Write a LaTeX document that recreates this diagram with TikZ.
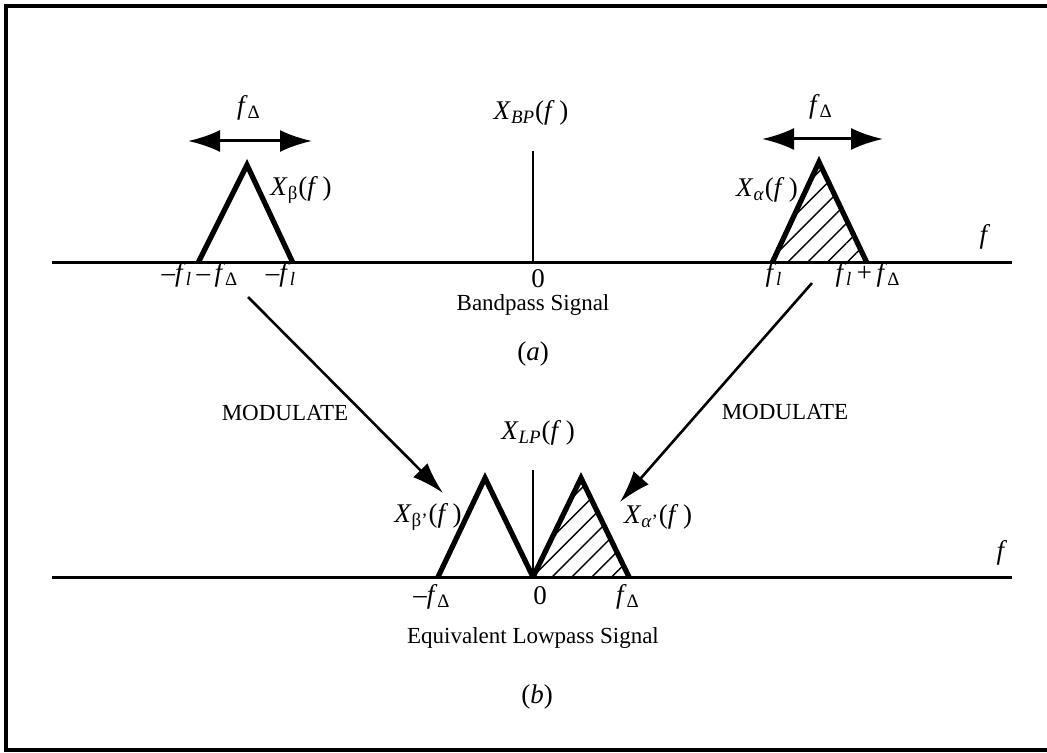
\documentclass[tikz,border=0pt]{standalone}
\usepackage{fontspec}
\setmainfont{Liberation Serif}
\usetikzlibrary{arrows.meta,patterns.meta}

\newcommand{\fv}{\textit{f}\,}
\newcommand{\fd}{\textit{f}\textsubscript{Δ}}
\newcommand{\fl}{\textit{f}\textsubscript{\textit{l}}}

\begin{document}
\begin{tikzpicture}[
    x=0.5pt, y=-0.5pt,
    lbl/.style={inner sep=0pt, font=\fontsize{13.5}{15}\selectfont},
    caption/.style={inner sep=0pt, font=\fontsize{11.5}{13}\selectfont},
    axis/.style={line width=1.5pt},
    tri/.style={line width=2.6pt},
    hatch/.style={pattern={Lines[angle=45,distance=7pt,line width=0.7pt]}},
    wide/.style={{Latex[length=16pt,width=11pt]}-{Latex[length=16pt,width=11pt]}, line width=1.5pt},
    arrow/.style={-{Latex[length=16pt,width=10pt]}, line width=1.3pt}
]
    \useasboundingbox (0,0) rectangle (1047,753);
    % frame
    \draw[line width=2.2pt] (1047,6) -- (6,6) -- (6,750) -- (1047,750);

    % (a) bandpass signal
    \draw[axis] (52,263) -- (1012,263);
    \draw[tri] (198,263) -- (247,165) -- (293,263);
    \draw[tri, hatch] (772,263) -- (819,162) -- (867,263);
    \draw[line width=1.4pt] (533,151) -- (533,263);
    \draw[wide] (188,141) -- (312,141);
    \draw[wide] (762,139) -- (883,139);

    \node[lbl] (fdl) at (249,108) {\fd};
    \node[lbl] (fdr) at (821,107) {\fd};
    \node[lbl] (xb) at (301,190) {\textit{X}\textsubscript{β}(\fv)};
    \node[lbl] (xa) at (767,190) {\textit{X}\textsubscript{\textit{α}}(\fv)};
    \node[lbl] (xbp) at (531,113) {\textit{X}\textsubscript{\textit{BP}}(\fv)};
    \node[lbl] (fa) at (985,237) {\textit{f}};
    \node[lbl] (lo) at (200,275) {–\fl\,–\,\fd};
    \node[lbl] (lhi) at (281,275) {–\fl};
    \node[lbl] (rlo) at (774,275) {\fl};
    \node[lbl] (rhi) at (868,275) {\fl\,+\,\fd};
    \node[lbl] (za) at (538,279) {0};
    \node[caption] (bp) at (533,305) {Bandpass Signal};
    \node[lbl] (capa) at (533,354) {(\textit{a})};

    % (b) equivalent lowpass signal
    \draw[axis] (52,577) -- (1012,577);
    \draw[tri] (438,577) -- (485,478) -- (533,577);
    \draw[tri, hatch] (533,577) -- (581,478) -- (629,577);
    \draw[line width=1.4pt] (533,470) -- (533,577);

    \node[lbl] (xlp) at (538,433) {\textit{X}\textsubscript{\textit{LP}}(\fv)};
    \node[lbl] (xbb) at (428,517) {\textit{X}\textsubscript{β'}(\fv)};
    \node[lbl] (xab) at (658,517) {\textit{X}\textsubscript{\textit{α}'}(\fv)};
    \node[lbl] (fb) at (1002,553) {\textit{f}};
    \node[lbl] (mfd) at (432,597) {–\fd};
    \node[lbl] (zb) at (540,596) {0};
    \node[lbl] (pfd) at (628,597) {\fd};
    \node[caption] (lp) at (533,638) {Equivalent Lowpass Signal};
    \node[lbl] (capb) at (537,697) {(\textit{b})};

    % modulate arrows
    \node[caption] (modl) at (285,413) {MODULATE};
    \node[caption] (modr) at (785,412) {MODULATE};
    \coordinate (bsrc) at (248,297);
    \coordinate (bdst) at (443,493);
    \coordinate (asrc) at (812,283);
    \coordinate (adst) at (620,502);
    \draw[arrow] (bsrc) -- (bdst);
    \draw[arrow] (asrc) -- (adst);
\end{tikzpicture}
\end{document}
